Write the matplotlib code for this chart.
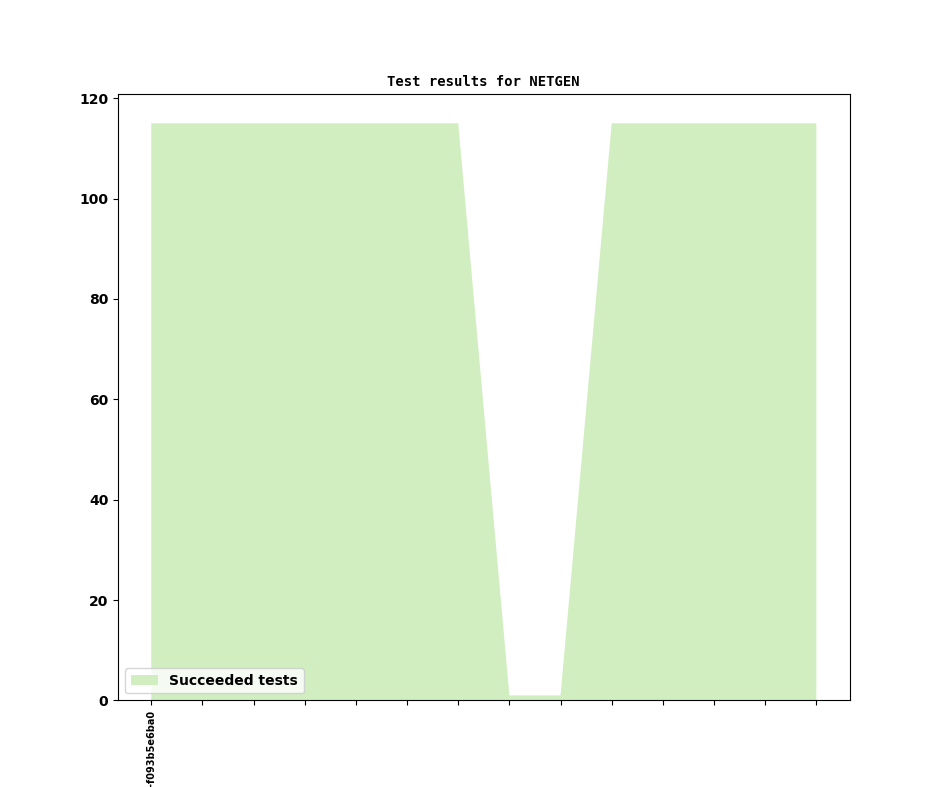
import matplotlib
matplotlib.use("Agg")
import matplotlib.pyplot as plt

versions = ["6.2.2301-f093b5e6ba0"] + [""] * 13
succeeded = [115, 115, 115, 115, 115, 115, 115, 1, 1, 115, 115, 115, 115, 115]

fig, axis = plt.subplots(figsize=(9.44, 7.87), dpi=100)
x = list(range(len(succeeded)))
axis.stackplot(x, succeeded, colors=["#d0eebf"], labels=["Succeeded tests"])
axis.set_xticks(x)
axis.set_xticklabels(versions, rotation=90, fontsize=7, fontweight="bold")
for label in axis.get_yticklabels():
    label.set_fontweight("bold")
axis.set_title("Test results for NETGEN", fontsize=10, fontweight="bold",
               family="monospace")
axis.legend(loc="lower left", prop={"weight": "bold", "size": 10})
fig.savefig("out.png", dpi=100)
